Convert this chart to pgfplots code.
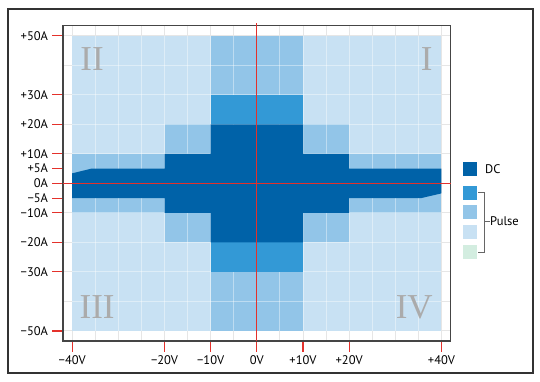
\documentclass[border=0pt]{standalone}
\usepackage{fontspec}
\setmainfont{PT Sans}
\newfontfamily\romanfont{Liberation Serif}
\usepackage{pgfplots}
\pgfplotsset{compat=1.18}
\definecolor{lightc}{HTML}{C8E1F3}
\definecolor{medc}{HTML}{92C5E8}
\definecolor{pulsec}{HTML}{3399D6}
\definecolor{dcc}{HTML}{0062A8}
\definecolor{mintc}{HTML}{D3EDE0}
\definecolor{gridc}{HTML}{E6E6E6}
\definecolor{framec}{HTML}{454545}
\definecolor{outerc}{HTML}{333333}
\definecolor{redc}{HTML}{E4312B}
\definecolor{romanc}{HTML}{ABABAB}
\definecolor{brackc}{HTML}{666666}
\begin{document}
\begin{tikzpicture}[x=1pt,y=1pt]
\useasboundingbox (0,0) rectangle (540,382);
\draw[color=outerc, line width=2pt] (7.5,8.7) rectangle (533,372.5);
\begin{axis}[
  at={(63pt,41pt)}, anchor=south west,
  scale only axis, width=387.7pt, height=315.3pt,
  xmin=-42, xmax=42, ymin=-53.4, ymax=53.4,
  xtick={-40,-20,-10,0,10,20,40},
  xticklabels={−40V,−20V,−10V,0V,+10V,+20V,+40V},
  ytick={-50,-30,-20,-10,-5,0,5,10,20,30,50},
  yticklabels={−50A,−30A,−20A,−10A,−5A,0A,+5A,+10A,+20A,+30A,+50A},
  minor xtick={-40,-35,...,40},
  minor ytick={-50,-40,...,50},
  xminorgrids, yminorgrids,
  minor grid style={gridc, line width=1pt},
  minor tick length=0pt, major tick length=11pt, tick align=outside,
  tick pos=left,
  major tick style={redc, line width=1.1pt},
  axis line style={framec, line width=1.6pt},
  tick label style={font=\fontsize{12.5}{14}\selectfont, text=black},
  yticklabel style={xshift=-0.5pt},
  clip=false,
]
% light pulse area
\addplot[fill=lightc, draw=none] coordinates {(-40,-50) (40,-50) (40,50) (-40,50)} -- cycle;
% medium pulse areas
\addplot[fill=medc, draw=none] coordinates {(-40,-10) (40,-10) (40,10) (-40,10)} -- cycle;
\addplot[fill=medc, draw=none] coordinates {(-10,-50) (10,-50) (10,50) (-10,50)} -- cycle;
\addplot[fill=medc, draw=none] coordinates {(-20,-20) (20,-20) (20,20) (-20,20)} -- cycle;
% cell lines over light/medium areas
\pgfplotsinvokeforeach{-35,-30,...,35}{
  \draw[white, opacity=0.4, line width=1pt] (axis cs:#1,-50) -- (axis cs:#1,50);
}
\pgfplotsinvokeforeach{-40,-30,...,40}{
  \draw[white, opacity=0.4, line width=1pt] (axis cs:-40,#1) -- (axis cs:40,#1);
}
% darker pulse areas
\addplot[fill=pulsec, draw=none] coordinates {(-10,20) (10,20) (10,30) (-10,30)} -- cycle;
\addplot[fill=pulsec, draw=none] coordinates {(-10,-30) (10,-30) (10,-20) (-10,-20)} -- cycle;
% DC area
\addplot[fill=dcc, draw=none] coordinates {
  (-40,-5) (-20,-5) (-20,-10) (-10,-10) (-10,-20) (10,-20) (10,-10) (20,-10) (20,-5)
  (35.6,-5) (40,-3.4) (40,5) (20,5) (20,10) (10,10) (10,20) (-10,20) (-10,10)
  (-20,10) (-20,5) (-35.8,5) (-40,3.4)} -- cycle;
% quadrant numerals
\node[romanc, font=\romanfont\fontsize{35}{35}\selectfont] at (axis cs:-35.7,42) {II};
\node[romanc, font=\romanfont\fontsize{35}{35}\selectfont] at (axis cs:36.8,42) {I};
\node[romanc, font=\romanfont\fontsize{35}{35}\selectfont] at (axis cs:-34.6,-42) {III};
\node[romanc, font=\romanfont\fontsize{35}{35}\selectfont] at (axis cs:34.1,-42) {IV};
% zero lines
\draw[redc, line width=1.1pt] (axis cs:0,54.2) -- (axis cs:0,-53.4);
\draw[redc, line width=1.1pt] (axis cs:-42,0) -- (axis cs:42,0);
\end{axis}
% legend
\fill[dcc] (462.7,206.3) rectangle ++(14,14);
\fill[pulsec] (462.7,182.3) rectangle ++(14,14);
\fill[medc] (462.7,162.7) rectangle ++(14,14);
\fill[lightc] (462.7,143) rectangle ++(14,14);
\fill[mintc] (462.7,123.3) rectangle ++(14,14);
\node[anchor=west, inner sep=0pt, font=\fontsize{12.5}{14}\selectfont] at (485,213.3) {DC};
\draw[brackc, line width=0.9pt] (478.3,189.7) -- (484.3,189.7) -- (484.3,129.7) -- (478.3,129.7);
\draw[brackc, line width=0.9pt] (484.3,160.8) -- (489.5,160.8);
\node[anchor=west, inner sep=0pt, font=\fontsize{12.5}{14}\selectfont] at (490,160.8) {Pulse};
\end{tikzpicture}
\end{document}
